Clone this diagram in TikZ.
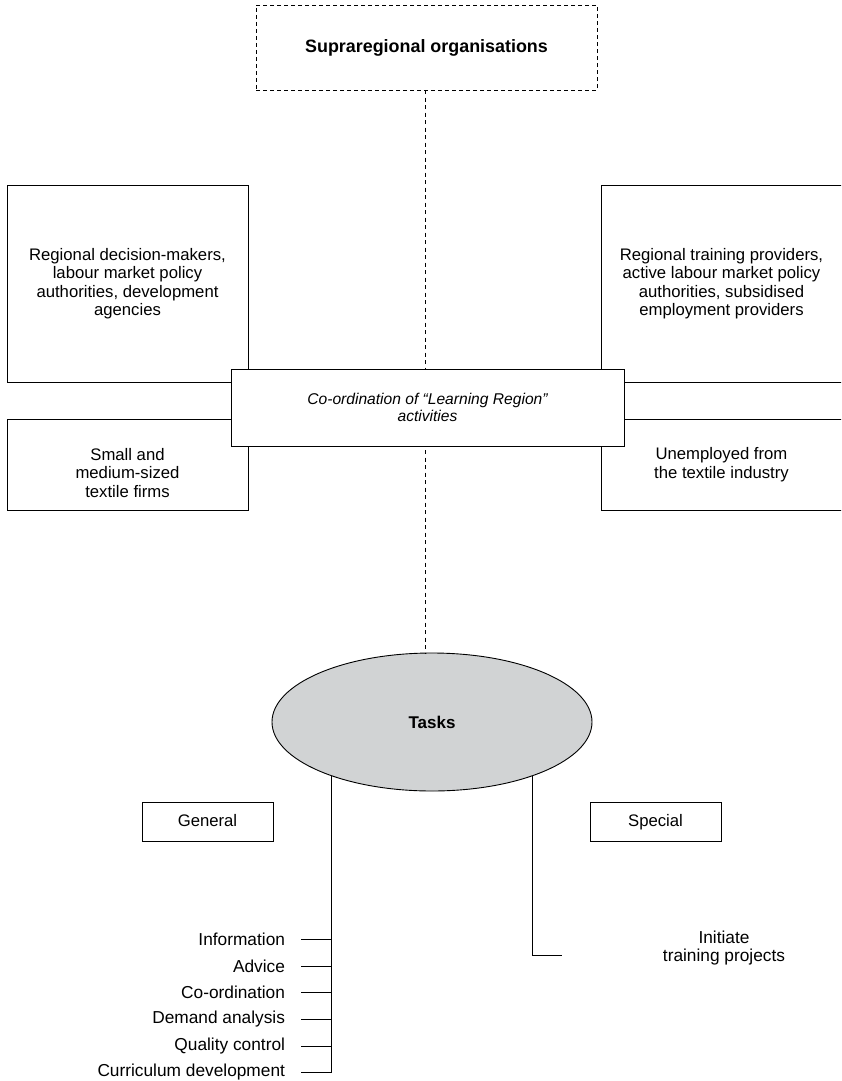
\documentclass[tikz,border=0pt]{standalone}
\usepackage{fontspec}
\setmainfont{Liberation Sans}
\usetikzlibrary{shapes.geometric}
\definecolor{taskgray}{RGB}{209,211,212}
\begin{document}
\begin{tikzpicture}[x=1pt,y=-1pt,
  every node/.style={inner sep=0pt, outer sep=0pt},
  box/.style={draw, line width=0.9pt, fill=white, align=center,
    font=\fontsize{16.7}{18.5}\selectfont},
  onebox/.style={box, text height=11.5pt, text depth=2.5pt},
  dbox/.style={box, dash pattern=on 4pt off 3pt},
  dline/.style={line width=0.9pt, dash pattern=on 4pt off 3.5pt},
  sline/.style={line width=0.9pt},
  item/.style={anchor=east, font=\fontsize{17.3}{18.5}\selectfont},
  plain/.style={align=center, font=\fontsize{17.3}{18.5}\selectfont}]
\useasboundingbox (0,0) rectangle (841,1081);
\clip (0,0) rectangle (841,1081);
% nodes
\node[dbox, minimum width=341pt, minimum height=85pt, font=\fontsize{17.9}{20}\selectfont\bfseries] (supra) at (426.5,47.5) {Supraregional organisations};
\node[box, minimum width=241pt, minimum height=197pt] (rdm) at (127.5,283.5) {Regional decision-makers,\\labour market policy\\authorities, development\\agencies};
\node[box, minimum width=241pt, minimum height=197pt] (rtp) at (721.5,283.5) {Regional training providers,\\active labour market policy\\authorities, subsidised\\employment providers};
\node[box, minimum width=241pt, minimum height=91pt] (sme) at (127.5,464.5) {};
\node[align=center, font=\fontsize{16.7}{18.5}\selectfont] (smetext) at (127.5,473) {Small and\\medium-sized\\textile firms};
\node[box, minimum width=241pt, minimum height=91pt] (unemp) at (721.5,464.5) {Unemployed from\\the textile industry};
\node[ellipse, draw, line width=0.9pt, fill=taskgray, minimum width=320pt, minimum height=138pt, font=\fontsize{17}{18.5}\selectfont\bfseries] (tasks) at (432,722) {Tasks};
% dashed connector behind coordination box
\coordinate (dtop) at (425,90);
\coordinate (dbot) at (425,653);
\draw[dline] (dtop) -- (dbot);
\node[box, minimum width=393pt, minimum height=77pt, font=\fontsize{15.6}{17}\selectfont\itshape] (coord) at (427.5,407.5) {Co-ordination of “Learning Region”\\activities};
\node[onebox, minimum width=131pt, minimum height=39pt] (general) at (207.5,821.5) {General};
\node[onebox, minimum width=131pt, minimum height=39pt] (special) at (655.5,821.5) {Special};
% list
\node[item] (i1) at (285,939) {Information};
\node[item] (i2) at (285,966) {Advice};
\node[item] (i3) at (285,992) {Co-ordination};
\node[item] (i4) at (285,1019) {Demand analysis};
\node[item] (i5) at (285,1046) {Quality control};
\node[item] (i6) at (285,1072) {Curriculum development};
\node[plain] (init) at (724,948) {Initiate\\training projects};
% solid connectors
\coordinate (gtop) at (331,775.5);
\coordinate (stop) at (532,775.5);
\draw[sline] (gtop) -- (gtop |- i6) -- ([xshift=16pt]i6.east);
\foreach \n in {i1,i2,i3,i4,i5}{
  \draw[sline] ([xshift=16pt]\n.east) -- (\n.east -| gtop);
}
\coordinate (send) at (562,955);
\draw[sline] (stop) -- (stop |- send) -- (send);
\end{tikzpicture}
\end{document}
